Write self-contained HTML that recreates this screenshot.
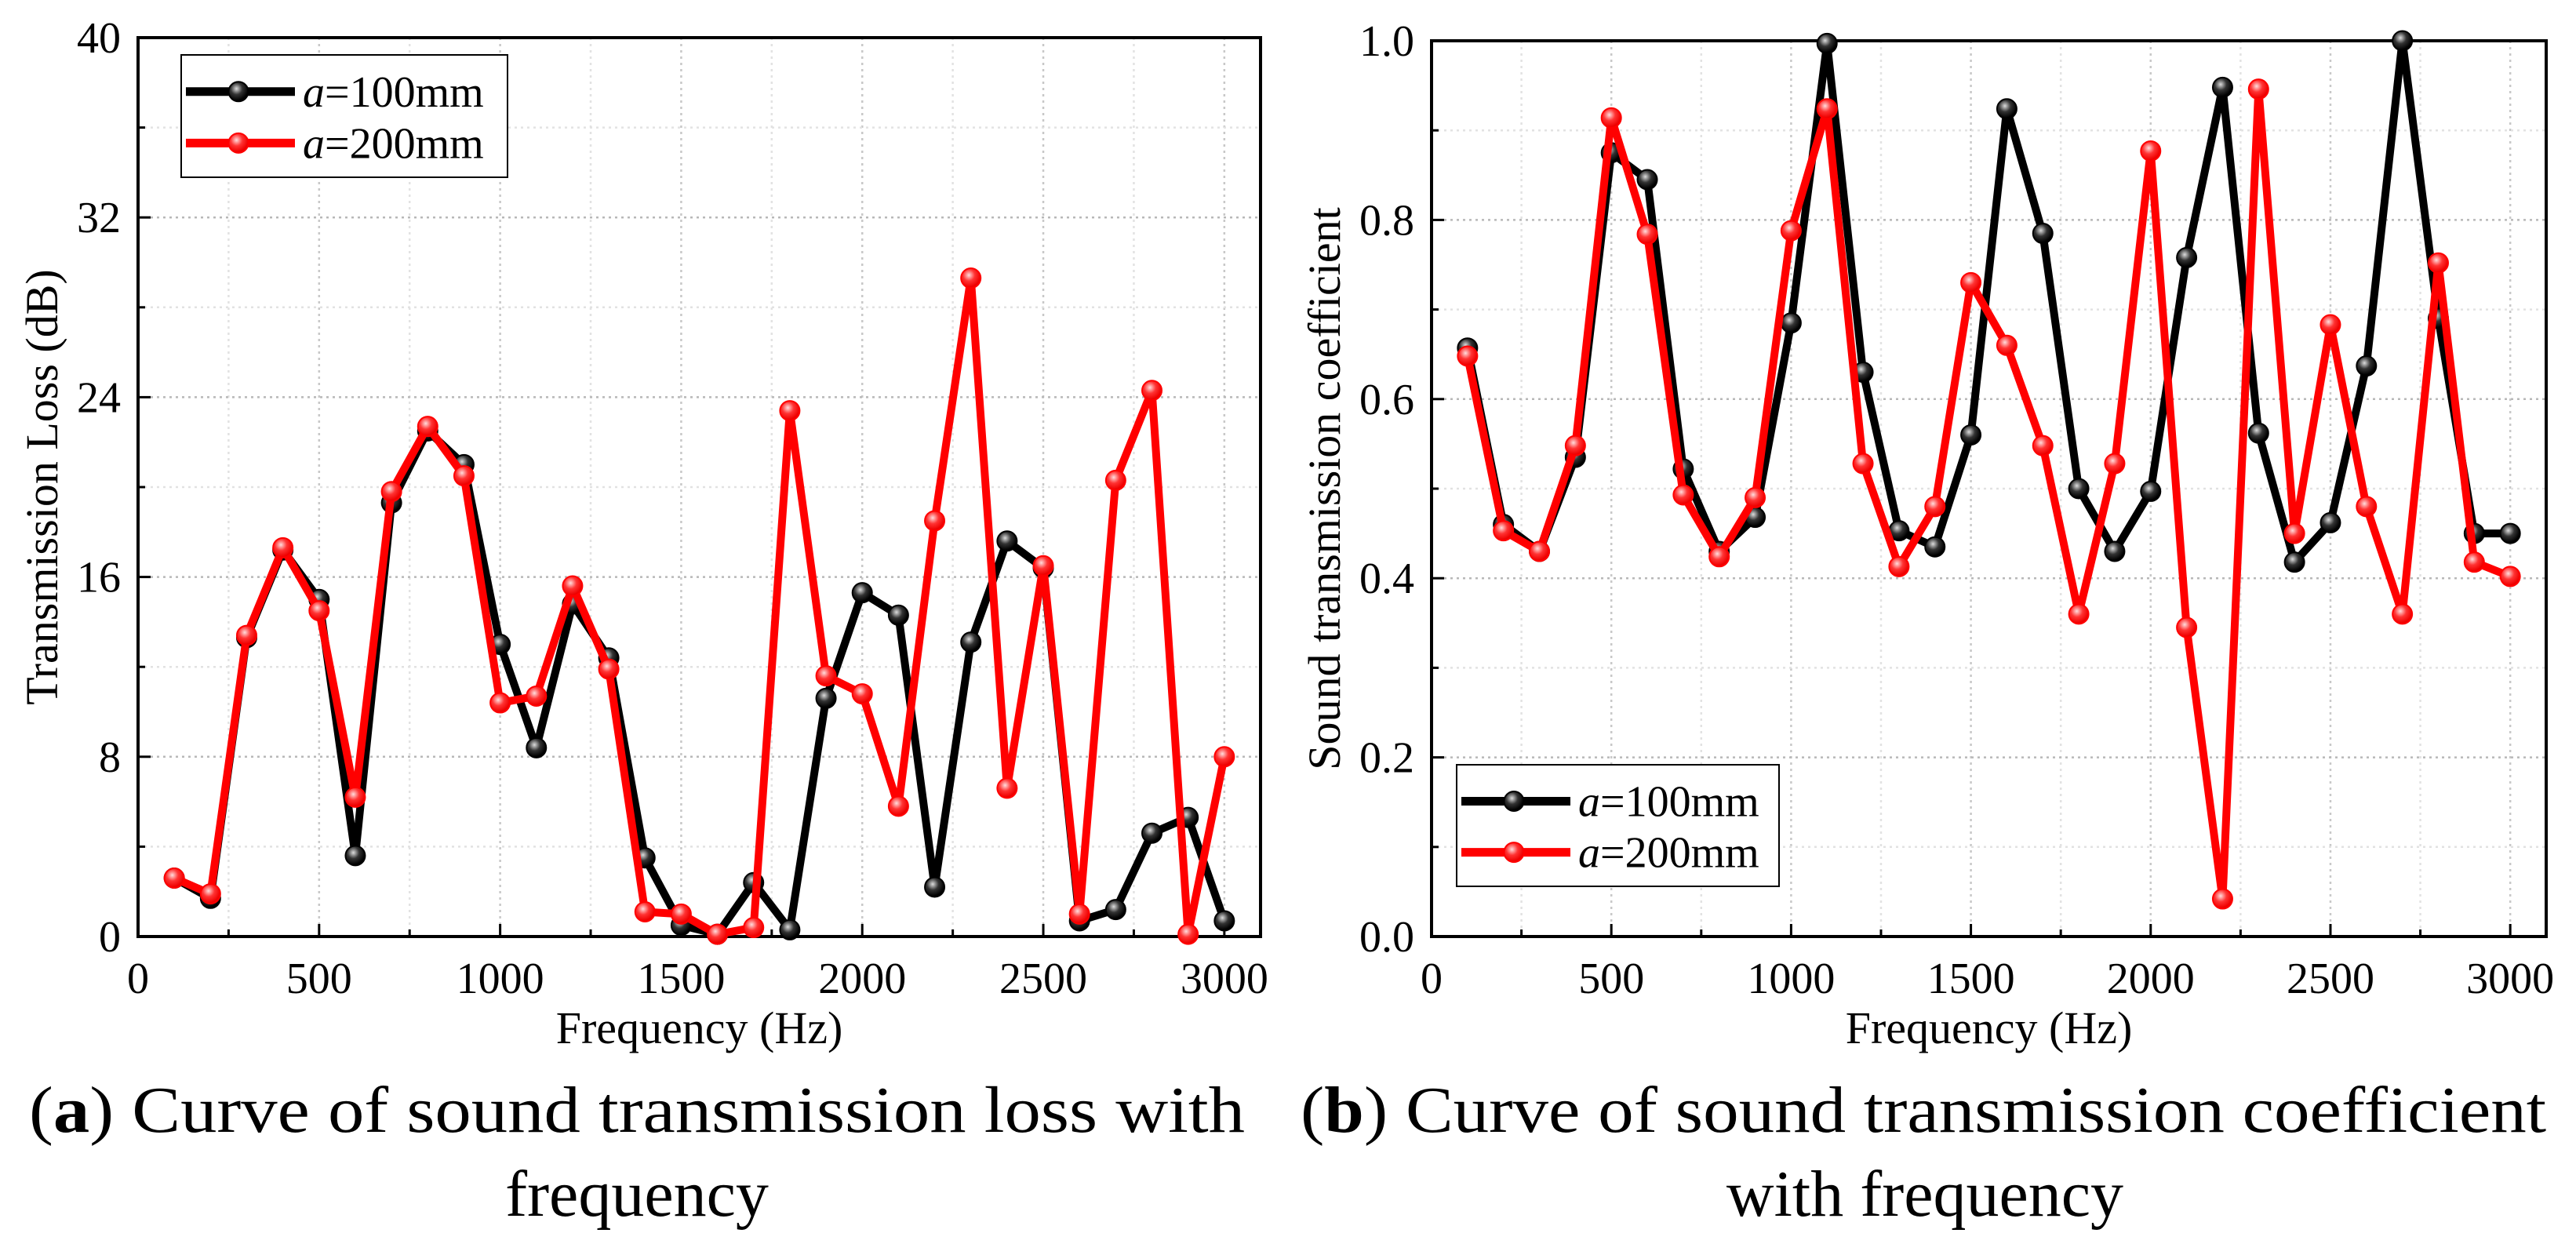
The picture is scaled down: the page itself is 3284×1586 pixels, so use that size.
<!DOCTYPE html>
<html><head><meta charset="utf-8"><style>
html,body{margin:0;padding:0;background:#fff;}
svg{display:block;font-family:"Liberation Serif",serif;}
</style></head><body>
<svg id="s" width="3284" height="1586" viewBox="0 0 3284 1586" xmlns="http://www.w3.org/2000/svg">
<defs>
<radialGradient id="gk" cx="0.4" cy="0.35" r="0.6"><stop offset="0" stop-color="#ddd"/><stop offset="0.5" stop-color="#333"/><stop offset="1" stop-color="#000"/></radialGradient>
<radialGradient id="gr" cx="0.4" cy="0.35" r="0.6"><stop offset="0" stop-color="#fdd"/><stop offset="0.5" stop-color="#f33"/><stop offset="1" stop-color="#e00"/></radialGradient>
</defs>
<g id="c1"></g>
<g id="c2"></g>
<text x="812" y="1443" font-size="84" text-anchor="middle" textLength="1550" lengthAdjust="spacingAndGlyphs">(<tspan font-weight="bold">a</tspan>) Curve of sound transmission loss with</text>
<text x="812" y="1550" font-size="84" text-anchor="middle">frequency</text>
<text x="2452" y="1443" font-size="84" text-anchor="middle" textLength="1588" lengthAdjust="spacingAndGlyphs">(<tspan font-weight="bold">b</tspan>) Curve of sound transmission coefficient</text>
<text x="2454" y="1550" font-size="84" text-anchor="middle">with frequency</text>
</svg>
<script>
const freqs=[100,200,300,400,500,600,700,800,900,1000,1100,1200,1300,1400,1500,1600,1700,1800,1900,2000,2100,2200,2300,2400,2500,2600,2700,2800,2900,3000];
const tl100=[2.6,1.7,13.3,17.2,15.0,3.6,19.3,22.5,21.0,13.0,8.4,14.8,12.4,3.5,0.5,0.1,2.4,0.3,10.6,15.3,14.3,2.2,13.1,17.6,16.4,0.7,1.2,4.6,5.3,0.7];
const tl200=[2.6,1.9,13.4,17.3,14.5,6.2,19.8,22.7,20.5,10.4,10.7,15.6,11.9,1.1,1.0,0.1,0.4,23.4,11.6,10.8,5.8,18.5,29.3,6.6,16.5,1.0,20.3,24.3,0.1,8.0];
const tc100=[0.657,0.46,0.43,0.535,0.875,0.845,0.522,0.43,0.468,0.685,0.997,0.63,0.453,0.435,0.56,0.924,0.785,0.5,0.43,0.497,0.758,0.948,0.562,0.418,0.462,0.637,1.0,0.69,0.45,0.45];
const tc200=[0.648,0.453,0.43,0.548,0.914,0.784,0.493,0.424,0.49,0.788,0.924,0.528,0.413,0.48,0.73,0.66,0.548,0.36,0.528,0.877,0.345,0.042,0.946,0.45,0.683,0.48,0.36,0.752,0.418,0.402];
const xTicks=[0,500,1000,1500,2000,2500,3000];
const tlTicks=[0,8,16,24,32,40];
const tcTicks=["0.0","0.2","0.4","0.6","0.8","1.0"];
const NS="http://www.w3.org/2000/svg";
function mk(p,t,a){const e=document.createElementNS(NS,t);for(const k in a)e.setAttribute(k,a[k]);p.appendChild(e);return e;}
function chart(g,L,R,T,B,ymax,yt,yLabels,ytitle,ytx,s1,s2,leg){
  const X=v=>L+v/3100*(R-L), Y=v=>B-v/ymax*(B-T);
  const step=yt[1]-yt[0];
  for(let v=250;v<=3000;v+=250){const l=mk(g,'line',{x1:X(v),x2:X(v),y1:T,y2:B,stroke:v%500?'#e2e2e2':'#c8c8c8','stroke-width':2.5,'stroke-dasharray':'3 5'});}
  for(let v=step/2;v<ymax-1e-9;v+=step/2){const l=mk(g,'line',{x1:L,x2:R,y1:Y(v),y2:Y(v),stroke:(Math.abs(v/step-Math.round(v/step))<1e-6)?'#b8b8b8':'#e2e2e2','stroke-width':2.5,'stroke-dasharray':'3 5'});}
  xTicks.forEach(v=>{mk(g,'line',{x1:X(v),x2:X(v),y1:B,y2:B-16,stroke:'#000','stroke-width':3});
    const t=mk(g,'text',{x:X(v),y:B+72,'font-size':56,'text-anchor':'middle'});t.textContent=v;
    });
  for(let v=250;v<3000;v+=500)mk(g,'line',{x1:X(v),x2:X(v),y1:B,y2:B-9,stroke:'#000','stroke-width':3});
  yt.forEach((v,i)=>{mk(g,'line',{x1:L,x2:L+16,y1:Y(v),y2:Y(v),stroke:'#000','stroke-width':3});
    const t=mk(g,'text',{x:L-22,y:Y(v)+19,'font-size':56,'text-anchor':'end'});t.textContent=yLabels[i];
    
    if(i<yt.length-1)mk(g,'line',{x1:L,x2:L+9,y1:Y(v+step/2),y2:Y(v+step/2),stroke:'#000','stroke-width':3});});
  const fr=mk(g,'rect',{x:L,y:T,width:R-L,height:B-T,fill:'none',stroke:'#000','stroke-width':4});
  
  const xt=mk(g,'text',{x:(L+R)/2,y:B+136,'font-size':58,'text-anchor':'middle'});xt.textContent='Frequency (Hz)';
  
  const ym=(T+B)/2;
  const yy=mk(g,'text',{x:ytx,y:ym,'font-size':58,'text-anchor':'middle',transform:`rotate(-90 ${ytx} ${ym})`,dy:19});yy.textContent=ytitle;
  
  [[s1,'#000','url(#gk)','series-a100'],[s2,'#f00','url(#gr)','series-a200']].forEach(([d,c,f,n])=>{
    const sg=mk(g,'g',{});
    const pl=mk(sg,'polyline',{points:d.map((v,i)=>X(freqs[i])+','+Y(v)).join(' '),fill:'none',stroke:c,'stroke-width':10,'stroke-linejoin':'round'});
    
    d.forEach((v,i)=>{const m=mk(sg,'circle',{cx:X(freqs[i]),cy:Y(v),r:12.5,fill:f,stroke:c,'stroke-width':2});
      });
  });
  const [lx,ly,lw,lh]=leg;
  const lg=mk(g,'g',{});
  mk(lg,'rect',{x:lx,y:ly,width:lw,height:lh,fill:'#fff',stroke:'#000','stroke-width':2});
  [['#000','url(#gk)','100'],['#f00','url(#gr)','200']].forEach(([c,f,n],i)=>{
    const cy=ly+lh*(0.3+0.42*i);
    const e=mk(lg,'g',{});
    mk(e,'line',{x1:lx+6,x2:lx+145,y1:cy,y2:cy,stroke:c,'stroke-width':11});
    mk(e,'circle',{cx:lx+73,cy:cy,r:12.5,fill:f,stroke:c,'stroke-width':2});
    const t=mk(e,'text',{x:lx+155,y:cy+19,'font-size':56});
    t.innerHTML='<tspan font-style="italic">a</tspan>='+n+'mm';
  });
}
chart(document.getElementById('c1'),176,1607,48,1194,40,tlTicks,tlTicks.map(String),'Transmission Loss (dB)',54,tl100,tl200,[231,70,416,156]);
chart(document.getElementById('c2'),1825,3246,52,1194,1,[0,0.2,0.4,0.6,0.8,1.0],tcTicks,'Sound transmission coefficient',1689,tc100,tc200,[1857,975,411,155]);
</script>
</body></html>
